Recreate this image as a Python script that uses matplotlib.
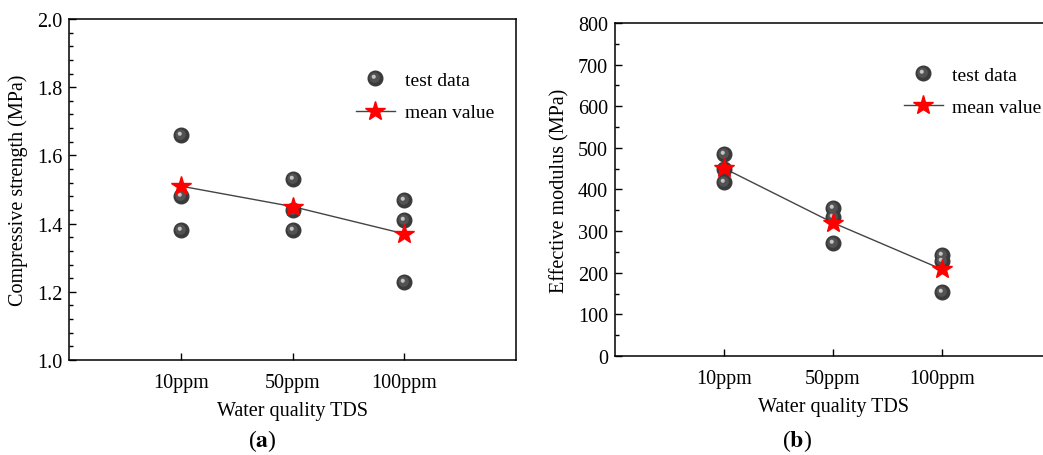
import matplotlib
matplotlib.use("Agg")
import matplotlib.pyplot as plt
from matplotlib.markers import MarkerStyle
from matplotlib.transforms import Affine2D
from matplotlib.ticker import MultipleLocator, FormatStrFormatter
from matplotlib.legend_handler import HandlerTuple

plt.rcParams['font.family'] = ['Liberation Serif', 'DejaVu Serif']
plt.rcParams['mathtext.fontset'] = 'stix'

categories = ["10ppm", "50ppm", "100ppm"]

# compressive strength (MPa), three specimens per TDS level
strength_tests = [[1.66, 1.48, 1.38],
                  [1.53, 1.44, 1.38],
                  [1.47, 1.41, 1.23]]
strength_mean = [1.51, 1.45, 1.37]

# effective modulus (MPa)
modulus_tests = [[486, 449, 418],
                 [355, 334, 271],
                 [243, 229, 153]]
modulus_mean = [451, 320, 208]

# shaded ball: dark body, lighter core, small offset highlight
mid = MarkerStyle('o', transform=Affine2D().scale(0.72).translate(-0.06, 0.06))
shine = MarkerStyle('o', transform=Affine2D().scale(0.28).translate(-0.12, 0.12))
BALL = 10.5


def ball_handles():
    return (plt.Line2D([], [], ls='none', marker='o', ms=BALL, mfc='#3a3a3a', mec='#3a3a3a'),
            plt.Line2D([], [], ls='none', marker=mid, ms=BALL, mfc='#525252', mec='none'),
            plt.Line2D([], [], ls='none', marker=shine, ms=BALL, mfc='#c4c4c4', mec='none'))


def draw_panel(ax, tests, means, ylim, major, minor, ylabel, leg_xy):
    xs = range(1, len(categories) + 1)
    for i, vals in enumerate(tests):
        x = [i + 1] * len(vals)
        ax.plot(x, vals, ls='none', marker='o', ms=BALL, mfc='#3a3a3a', mec='#3a3a3a', zorder=3)
        ax.plot(x, vals, ls='none', marker=mid, ms=BALL, mfc='#525252', mec='none', zorder=3)
        ax.plot(x, vals, ls='none', marker=shine, ms=BALL, mfc='#c4c4c4', mec='none', zorder=3)
    ax.plot(xs, means, color='#444444', lw=1.0, zorder=2)
    ax.plot(xs, means, ls='none', marker='*', ms=15, mfc='red', mec='red', zorder=4)

    h_star = plt.Line2D([], [], color='#444444', lw=1.0, marker='*', ms=15, mfc='red', mec='red')
    ax.legend([ball_handles(), h_star], ["test data", "mean value"], loc='upper left',
              bbox_to_anchor=leg_xy, frameon=False, fontsize=14, handlelength=2.0,
              handletextpad=0.5, labelspacing=0.75, borderaxespad=0, borderpad=0,
              handler_map={tuple: HandlerTuple(ndivide=1, pad=0)})

    ax.set_xlim(0, 4)
    ax.set_ylim(*ylim)
    ax.set_xticks(list(xs))
    ax.set_xticklabels(categories)
    ax.yaxis.set_major_locator(MultipleLocator(major))
    ax.yaxis.set_minor_locator(MultipleLocator(minor))
    ax.tick_params(axis='both', which='both', direction='in', labelsize=14.5,
                   top=False, right=False, width=1.0)
    ax.tick_params(axis='both', which='major', length=5, pad=5)
    ax.tick_params(axis='x', which='major', pad=9)
    ax.tick_params(axis='y', which='minor', length=3)
    ax.tick_params(axis='x', which='minor', bottom=False)
    for sp in ax.spines.values():
        sp.set_linewidth(1.1)
    ax.set_xlabel("Water quality TDS", fontsize=14.5, labelpad=7)
    ax.set_ylabel(ylabel, fontsize=14.5, labelpad=6)


fig = plt.figure(figsize=(10.43, 4.56), dpi=100)
ax1 = fig.add_axes([0.0662, 0.2083, 0.4286, 0.7478])
ax2 = fig.add_axes([0.5897, 0.2171, 0.418, 0.7303])

draw_panel(ax1, strength_tests, strength_mean, (1.0, 2.0), 0.2, 0.04,
           "Compressive strength (MPa)", (0.642, 0.846))
ax1.yaxis.set_major_formatter(FormatStrFormatter('%.1f'))
draw_panel(ax2, modulus_tests, modulus_mean, (0, 800), 100, 50,
           "Effective modulus (MPa)", (0.662, 0.871))

fig.text(262 / 1043, 1 - 441 / 456, r"($\mathbf{a}$)", ha='center', va='center', fontsize=17)
fig.text(797 / 1043, 1 - 441 / 456, r"($\mathbf{b}$)", ha='center', va='center', fontsize=17)

fig.savefig("out.png", dpi=100)
